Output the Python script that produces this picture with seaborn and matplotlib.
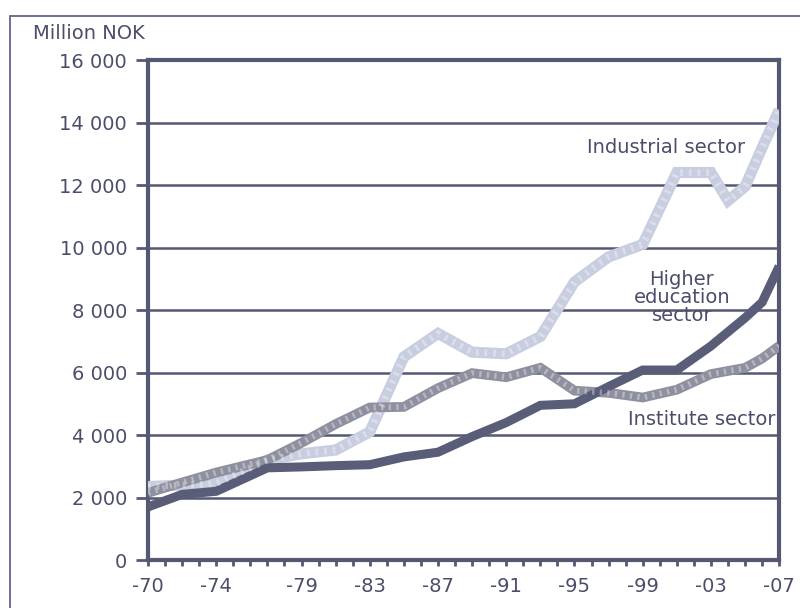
import matplotlib
matplotlib.use("Agg")
import matplotlib.pyplot as plt
import seaborn as sns
import pandas as pd
from matplotlib.lines import Line2D
from matplotlib.ticker import FuncFormatter, MultipleLocator

years = [1970, 1972, 1974, 1977, 1979, 1981, 1983, 1985, 1987, 1989, 1991,
         1993, 1995, 1997, 1999, 2001, 2003, 2004, 2005, 2006, 2007]
industrial = [2350, 2400, 2450, 3200, 3400, 3520, 4100, 6500, 7250, 6650, 6600,
              7150, 8900, 9700, 10100, 12400, 12400, 11500, 11950, 13200, 14400]
institute = [2150, 2480, 2800, 3200, 3750, 4350, 4880, 4900, 5500, 5980, 5850,
             6150, 5420, 5350, 5200, 5450, 5950, 6050, 6150, 6450, 6850]
higher_ed = [1700, 2100, 2200, 2950, 2980, 3020, 3050, 3300, 3450, 3950, 4400,
             4950, 5000, 5550, 6080, 6080, 6850, 7300, 7750, 8250, 9400]

tick_years = [1970, 1974, 1979, 1983, 1987, 1991, 1995, 1999, 2003, 2007]
tick_labels = ["-70", "-74", "-79", "-83", "-87", "-91", "-95", "-99", "-03", "-07"]
series_names = ["Industrial sector", "Institute sector", "Higher education sector"]

df = pd.DataFrame({
    "year": years * 3,
    "value": industrial + institute + higher_ed,
    "sector": sum([[n] * len(years) for n in series_names], []),
})

sns.set_theme(style="white")
plt.rcParams['font.family'] = ['DejaVu Sans']

ink = "#555873"
txt = "#4b4e6b"
fs = 14
colors = {"Industrial sector": "#c9cde0",
          "Institute sector": "#8e909f",
          "Higher education sector": "#5a5d78"}
widths = {"Industrial sector": 8, "Institute sector": 7, "Higher education sector": 6.5}

fig = plt.figure(figsize=(8, 6.08), dpi=100)
ax = fig.add_axes([0.185, 0.0789, 0.789, 0.8224])

for y in range(2000, 16000, 2000):
    ax.axhline(y, color=ink, lw=1.8, zorder=1)

for name in series_names:
    sub = df[df["sector"] == name]
    sns.lineplot(data=sub, x="year", y="value", ax=ax, color=colors[name],
                 lw=widths[name], legend=False, zorder=3,
                 solid_joinstyle="miter", solid_capstyle="butt")
    if name != "Higher education sector":
        ax.plot(sub["year"], sub["value"], color="white", lw=widths[name] * 0.6,
                ls=(0, (0.4, 0.9)), alpha=0.35, zorder=3.5)

ax.set_xlim(1970, 2007)
ax.set_ylim(0, 16000)
ax.set_xticks(tick_years)
ax.set_xticklabels(tick_labels)
ax.xaxis.set_minor_locator(MultipleLocator(1))
ax.yaxis.set_major_locator(MultipleLocator(2000))
ax.yaxis.set_major_formatter(FuncFormatter(lambda v, p: f"{int(v):,}".replace(",", " ")))
ax.set_xlabel("")
ax.set_ylabel("")

for s in ax.spines.values():
    s.set_color(ink)
    s.set_linewidth(3)
    s.set_visible(True)

ax.tick_params(axis="y", which="major", direction="out", length=9, width=2,
               color=ink, labelsize=fs, labelcolor=txt, pad=6, left=True)
ax.tick_params(axis="x", which="both", direction="out", length=4, width=2,
               color=ink, labelsize=fs, labelcolor=txt, pad=8, bottom=True)
for lab in ax.get_xticklabels():
    lab.set_x(lab.get_position()[0])

fig.text(0.041, 0.945, "Million NOK", fontsize=fs, color=txt, ha="left", va="center")

ax.text(2005.0, 13200, "Industrial sector", fontsize=fs, color=txt, ha="right", va="center")
ax.text(2001.3, 8400, "Higher\neducation\nsector", fontsize=fs, color=txt, ha="center",
        va="center", linespacing=0.95)
ax.text(2006.8, 4500, "Institute sector", fontsize=fs, color=txt, ha="right", va="center")

fig.add_artist(Line2D([0.0125, 0.0125], [0.0, 0.973], color="#6d7090", lw=1.4))
fig.add_artist(Line2D([0.0125, 1.0], [0.973, 0.973], color="#6d7090", lw=1.4))

fig.savefig("out.png", dpi=100)
